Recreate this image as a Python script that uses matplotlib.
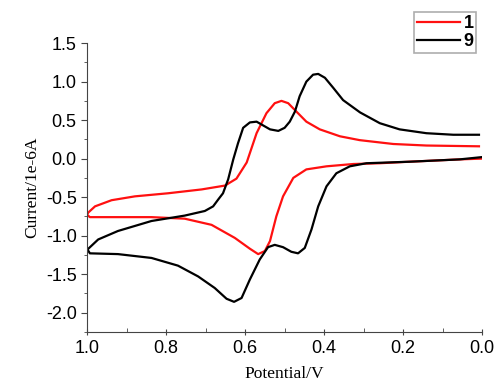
import matplotlib.pyplot as plt
from matplotlib.ticker import MultipleLocator

plt.rcParams['axes.unicode_minus'] = False

# sample 1: upper branch (right -> left), then lower branch (left -> right)
x1 = [0.008, 0.141, 0.225, 0.259, 0.310, 0.360, 0.411, 0.445, 0.470, 0.491, 0.508, 0.525,
      0.546, 0.571, 0.596, 0.622, 0.651, 0.710, 0.795, 0.879, 0.938, 0.980, 0.997, 1.0,
      0.993, 0.922, 0.837, 0.753, 0.685, 0.626, 0.588, 0.567, 0.550, 0.537, 0.521, 0.504,
      0.478, 0.445, 0.394, 0.326, 0.259, 0.183, 0.057, 0.0]
y1 = [0.16, 0.17, 0.19, 0.21, 0.24, 0.29, 0.38, 0.48, 0.61, 0.72, 0.75, 0.72,
      0.59, 0.33, -0.05, -0.26, -0.35, -0.40, -0.45, -0.49, -0.54, -0.62, -0.70, -0.73,
      -0.76, -0.76, -0.76, -0.78, -0.86, -1.03, -1.17, -1.24, -1.20, -1.07, -0.75, -0.49,
      -0.25, -0.14, -0.10, -0.07, -0.06, -0.04, -0.01, 0.0]

# sample 9
x9 = [0.008, 0.073, 0.141, 0.209, 0.259, 0.284, 0.309, 0.352, 0.377, 0.398, 0.415, 0.428,
      0.445, 0.462, 0.474, 0.487, 0.500, 0.516, 0.537, 0.554, 0.571, 0.588, 0.605, 0.618,
      0.630, 0.643, 0.656, 0.668, 0.681, 0.702, 0.753, 0.837, 0.922, 0.972, 0.999,
      0.993, 0.922, 0.837, 0.770, 0.719, 0.677, 0.647, 0.628, 0.609, 0.588, 0.563, 0.542,
      0.525, 0.504, 0.483, 0.466, 0.449, 0.432, 0.415, 0.394, 0.369, 0.335, 0.293, 0.183,
      0.057, 0.0]
y9 = [0.31, 0.31, 0.33, 0.38, 0.46, 0.53, 0.60, 0.76, 0.92, 1.05, 1.10, 1.09,
      1.00, 0.81, 0.61, 0.48, 0.40, 0.36, 0.38, 0.43, 0.48, 0.47, 0.40, 0.20,
      -0.01, -0.27, -0.45, -0.53, -0.62, -0.68, -0.74, -0.81, -0.94, -1.05, -1.18,
      -1.23, -1.24, -1.29, -1.39, -1.53, -1.68, -1.82, -1.86, -1.81, -1.57, -1.31, -1.15,
      -1.12, -1.15, -1.21, -1.23, -1.16, -0.92, -0.62, -0.36, -0.19, -0.10, -0.06, -0.04,
      -0.01, 0.02]

labels = ['1', '9']

fig = plt.figure(figsize=(4.95, 3.85), dpi=100)
ax = fig.add_axes([0.176, 0.138, 0.798, 0.750])

l1, = ax.plot(x1, y1, color='#ff1010', lw=1.6, solid_joinstyle='round')
l9, = ax.plot(x9, y9, color='k', lw=1.6, solid_joinstyle='round')

ax.set_xlim(1.0, 0.0)
ax.set_ylim(-2.25, 1.5)
ax.xaxis.set_major_locator(MultipleLocator(0.2))
ax.xaxis.set_minor_locator(MultipleLocator(0.1))
ax.yaxis.set_major_locator(MultipleLocator(0.5))
ax.yaxis.set_minor_locator(MultipleLocator(0.25))

for s in ['top', 'right']:
    ax.spines[s].set_visible(False)
for s in ['left', 'bottom']:
    ax.spines[s].set_color('#444444')

ax.tick_params(axis='both', which='both', color='#444444', labelsize=13)
ax.tick_params(axis='y', which='major', direction='out', length=4)
ax.tick_params(axis='y', which='minor', direction='out', length=2.5)
ax.tick_params(axis='x', which='major', direction='inout', length=5)
ax.tick_params(axis='x', which='minor', direction='in', length=3)
for t in ax.get_xticklabels() + ax.get_yticklabels():
    t.set_family('Liberation Sans')

ax.set_xlabel('Potential/V', family='Liberation Serif', fontsize=12.5, labelpad=6)
ax.set_ylabel('Current/1e-6A', family='Liberation Serif', fontsize=12.5, labelpad=4)

leg = fig.legend([l1, l9], labels, loc='upper left', bbox_to_anchor=(0.836, 0.968),
                 frameon=True, fancybox=False, handlelength=2.4, handletextpad=0.2,
                 borderpad=0.15, labelspacing=0.05, borderaxespad=0,
                 prop={'family': 'Liberation Sans', 'weight': 'bold', 'size': 13})
leg.get_frame().set_edgecolor('#999999')
leg.get_frame().set_linewidth(1.2)

fig.savefig('out.png', dpi=100)
